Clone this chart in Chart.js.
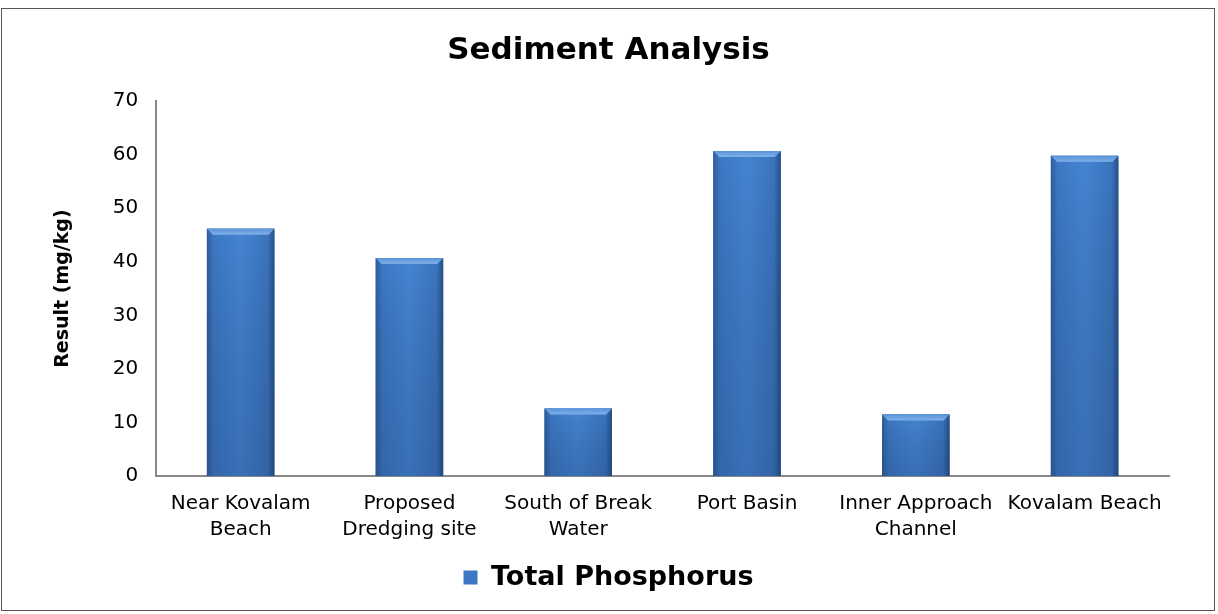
<!DOCTYPE html>
<html>
<head>
<meta charset="utf-8">
<script src="https://cdn.jsdelivr.net/npm/chart.js@4"></script>
<style>
  html, body { margin: 0; padding: 0; background: #fff; }
  #wrap { position: absolute; left: 1px; top: 8px; width: 1214px; height: 603px; border: 1px solid #555; box-sizing: border-box; }
</style>
</head>
<body>
<div id="wrap"><canvas id="myChartBar"></canvas></div>
<script>
const sites = [['Near Kovalam', 'Beach'], ['Proposed', 'Dredging site'], ['South of Break', 'Water'], 'Port Basin', ['Inner Approach', 'Channel'], 'Kovalam Beach'];
const phosphorus = [46.2, 40.7, 12.6, 60.7, 11.5, 59.8];

// bevel look on each bar (gradient + lighter top edge)
const bevel = {
  id: 'bevel',
  afterDatasetsDraw(chart) {
    const c = chart.ctx;
    chart.getDatasetMeta(0).data.forEach(bar => {
      const l = bar.x - bar.width / 2, r = bar.x + bar.width / 2;
      const t = bar.y, b = bar.base, d = 6;
      c.save();
      let g = c.createLinearGradient(l, 0, r, 0);
      g.addColorStop(0, '#2f5d9a');
      g.addColorStop(0.1, '#3c78c4');
      g.addColorStop(0.5, '#4484d2');
      g.addColorStop(0.9, '#3b74be');
      g.addColorStop(1, '#264f86');
      c.fillStyle = g;
      c.fillRect(l, t, r - l, b - t);
      let v = c.createLinearGradient(0, t, 0, b);
      v.addColorStop(0, 'rgba(0,0,0,0)');
      v.addColorStop(1, 'rgba(20,40,80,0.22)');
      c.fillStyle = v;
      c.fillRect(l, t, r - l, b - t);
      // top bevel
      let tg = c.createLinearGradient(0, t, 0, t + d);
      tg.addColorStop(0, '#5b93d8');
      tg.addColorStop(1, '#7eb0ea');
      c.beginPath();
      c.moveTo(l, t); c.lineTo(r, t); c.lineTo(r - d, t + d); c.lineTo(l + d, t + d); c.closePath();
      c.fillStyle = tg;
      c.fill();
      c.restore();
    });
  }
};

const ctx = document.getElementById('myChartBar');
let graphBar = new Chart(ctx, {
  type: 'bar',
  plugins: [bevel],
  options: {
    responsive: true,
    maintainAspectRatio: false,
    animation: false,
    layout: { padding: { left: 46, right: 45, top: 10, bottom: 9 } },
    plugins: {
      title: {
        display: true,
        text: 'Sediment Analysis',
        color: '#000',
        font: { family: 'DejaVu Sans', size: 31, weight: 'bold' },
        padding: { top: 13, bottom: 32 }
      },
      legend: {
        position: 'bottom',
        labels: {
          color: '#000',
          font: { family: 'DejaVu Sans', size: 27, weight: 'bold' },
          boxWidth: 14, boxHeight: 14,
          padding: 6
        }
      },
      tooltip: { enabled: false }
    },
    scales: {
      x: {
        grid: { display: false, drawTicks: false },
        border: { color: '#888', width: 2 },
        ticks: { color: '#000', font: { family: 'DejaVu Sans', size: 20, lineHeight: 1.3 }, maxRotation: 0, autoSkip: false, padding: 15 }
      },
      y: {
        min: 0,
        max: 70,
        grid: { display: false, drawTicks: false },
        border: { color: '#888', width: 2 },
        ticks: { stepSize: 10, color: '#000', font: { family: 'DejaVu Sans', size: 20 }, padding: 18 },
        title: {
          display: true,
          text: 'Result (mg/kg)',
          color: '#000',
          font: { family: 'DejaVu Sans', size: 19, weight: 'bold' },
          padding: { top: 4, bottom: 20 }
        }
      }
    }
  },
  data: {
    labels: sites,
    datasets: [{
      label: 'Total Phosphorus',
      data: phosphorus,
      backgroundColor: '#3c78c6',
      borderWidth: 0,
      categoryPercentage: 1,
      barPercentage: 0.4
    }]
  }
});
</script>
</body>
</html>
